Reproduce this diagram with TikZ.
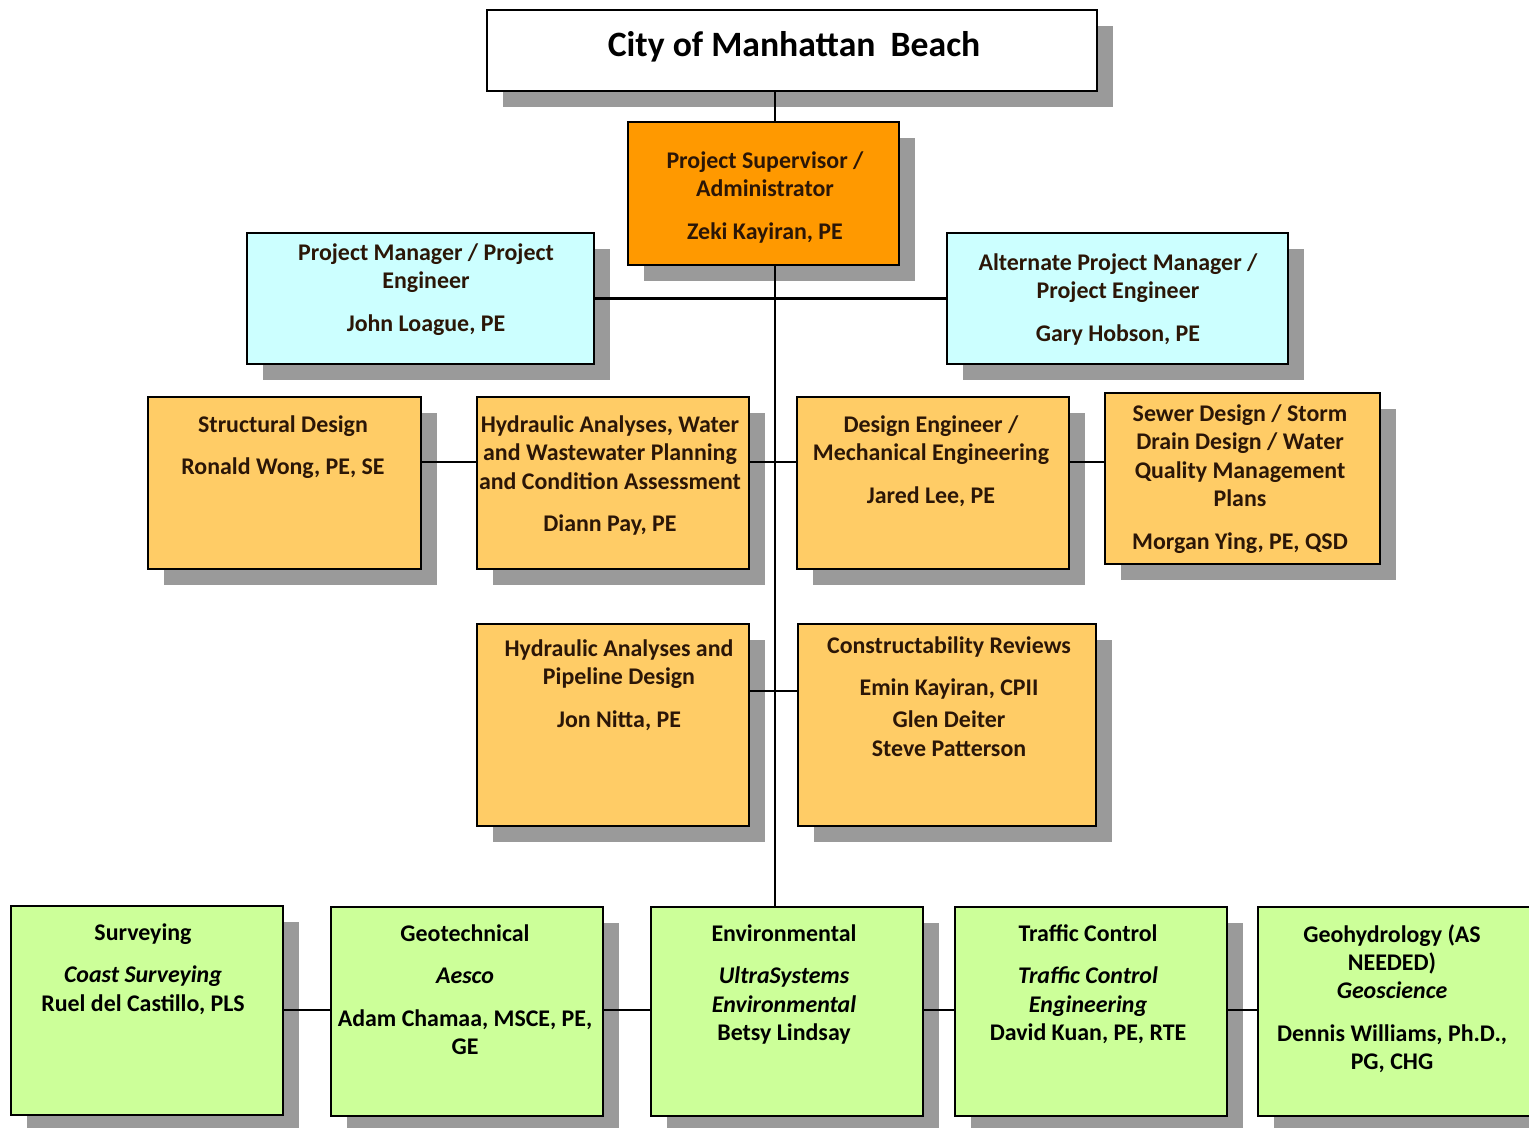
\documentclass[tikz,border=0pt]{standalone}
\usepackage{fontspec}
\setmainfont{Carlito}
\usetikzlibrary{fit,shadows}
\definecolor{supOrange}{HTML}{FF9900}
\definecolor{lightOrange}{HTML}{FFCC66}
\definecolor{pmCyan}{HTML}{CCFFFF}
\definecolor{subGreen}{HTML}{CCFF99}
\definecolor{shadowGray}{HTML}{9A9A9A}
\definecolor{darkBrown}{HTML}{2B1607}

\begin{document}
\begin{tikzpicture}[x=0.02cm, y=-0.02cm, line width=1.5pt,
    box/.style={draw, line width=1.6pt, inner sep=0pt,
      drop shadow={shadow xshift=0.32cm, shadow yshift=-0.32cm, fill=shadowGray, opacity=1}},
    lbl/.style={anchor=north, align=center, inner sep=0pt, text=darkBrown,
      font=\fontsize{13.6}{16.2}\selectfont\bfseries}]
  \useasboundingbox (0,0) rectangle (1529,1127);
  \coordinate (trk) at (775,0);
  \coordinate (r1) at (0,462);
  \coordinate (r2) at (0,691);
  \coordinate (r3) at (0,1010);

  % top
  \node[box, fill=white, fit={(487,10) (1097,91)}] (city) {};
  \node[lbl, anchor=center, text=black, font=\fontsize{20.3}{24}\selectfont\bfseries] (cityT) at (794,47) {City of Manhattan\hspace{0.2em} Beach};

  \node[box, fill=supOrange, fit={(628,122) (899,265)}] (super) {};
  \node[lbl] (superT) at (765,150) {Project Supervisor /\\Administrator\\[8pt]Zeki Kayiran, PE};

  \node[box, fill=pmCyan, fit={(247,233) (594,364)}] (pm) {};
  \node[lbl] (pmT) at (426,242) {Project Manager / Project\\Engineer\\[8pt]John Loague, PE};

  \node[box, fill=pmCyan, fit={(947,233) (1288,364)}] (apm) {};
  \node[lbl] (apmT) at (1118,252) {Alternate Project Manager /\\Project Engineer\\[8pt]Gary Hobson, PE};

  % first row
  \node[box, fill=lightOrange, fit={(148,397) (421,569)}] (struct) {};
  \node[lbl] (structT) at (283,414) {Structural Design\\[8pt]Ronald Wong, PE, SE};

  \node[box, fill=lightOrange, fit={(477,397) (749,569)}] (hyd1) {};
  \node[lbl] (hyd1T) at (610,414) {Hydraulic Analyses, Water\\and Wastewater Planning\\and Condition Assessment\\[8pt]Diann Pay, PE};

  \node[box, fill=lightOrange, fit={(797,397) (1069,569)}] (design) {};
  \node[lbl] (designT) at (931,414) {Design Engineer /\\Mechanical Engineering\\[8pt]Jared Lee, PE};

  \node[box, fill=lightOrange, fit={(1105,393) (1380,564)}] (sewer) {};
  \node[lbl] (sewerT) at (1240,403) {Sewer Design / Storm\\Drain Design / Water\\Quality Management\\Plans\\[8pt]Morgan Ying, PE, QSD};

  % second row
  \node[box, fill=lightOrange, fit={(477,624) (749,826)}] (hyd2) {};
  \node[lbl] (hyd2T) at (619,638) {Hydraulic Analyses and\\Pipeline Design\\[8pt]Jon Nitta, PE};

  \node[box, fill=lightOrange, fit={(798,624) (1096,826)}] (constr) {};
  \node[lbl] (constrT) at (949,635) {Constructability Reviews\\[8pt]Emin Kayiran, CPII\\[2pt]Glen Deiter\\Steve Patterson};

  % subconsultants
  \node[box, fill=subGreen, fit={(11,906) (283,1115)}] (surv) {};
  \node[lbl, text=black] (survT) at (143,922) {Surveying\\[8pt]\itshape Coast Surveying\\Ruel del Castillo, PLS};

  \node[box, fill=subGreen, fit={(331,907) (603,1116)}] (geo) {};
  \node[lbl, text=black] (geoT) at (465,923) {Geotechnical\\[8pt]\itshape Aesco\\[8pt]Adam Chamaa, MSCE, PE,\\GE};

  \node[box, fill=subGreen, fit={(651,907) (923,1116)}] (env) {};
  \node[lbl, text=black] (envT) at (784,923) {Environmental\\[8pt]\itshape UltraSystems\\\itshape Environmental\\Betsy Lindsay};

  \node[box, fill=subGreen, fit={(955,907) (1227,1116)}] (traffic) {};
  \node[lbl, text=black] (trafficT) at (1088,923) {Traffic Control\\[8pt]\itshape Traffic Control\\\itshape Engineering\\David Kuan, PE, RTE};

  \node[box, fill=subGreen, fit={(1258,907) (1540,1116)}] (geohyd) {};
  \node[lbl, text=black] (geohydT) at (1392,923) {Geohydrology (AS\\NEEDED)\\\itshape Geoscience\\[8pt]Dennis Williams, Ph.D.,\\PG, CHG};

  % connectors
  \draw (city.south -| trk) -- (super.north -| trk);
  \draw (super.south -| trk) -- (env.north -| trk);
  \draw (pm.east) -- (apm.west);
  \draw (struct.east |- r1) -- (hyd1.west |- r1);
  \draw (hyd1.east |- r1) -- (design.west |- r1);
  \draw (design.east |- r1) -- (sewer.west |- r1);
  \draw (hyd2.east |- r2) -- (constr.west |- r2);
  \draw (surv.east |- r3) -- (geo.west |- r3);
  \draw (geo.east |- r3) -- (env.west |- r3);
  \draw (env.east |- r3) -- (traffic.west |- r3);
  \draw (traffic.east |- r3) -- (geohyd.west |- r3);
\end{tikzpicture}
\end{document}
